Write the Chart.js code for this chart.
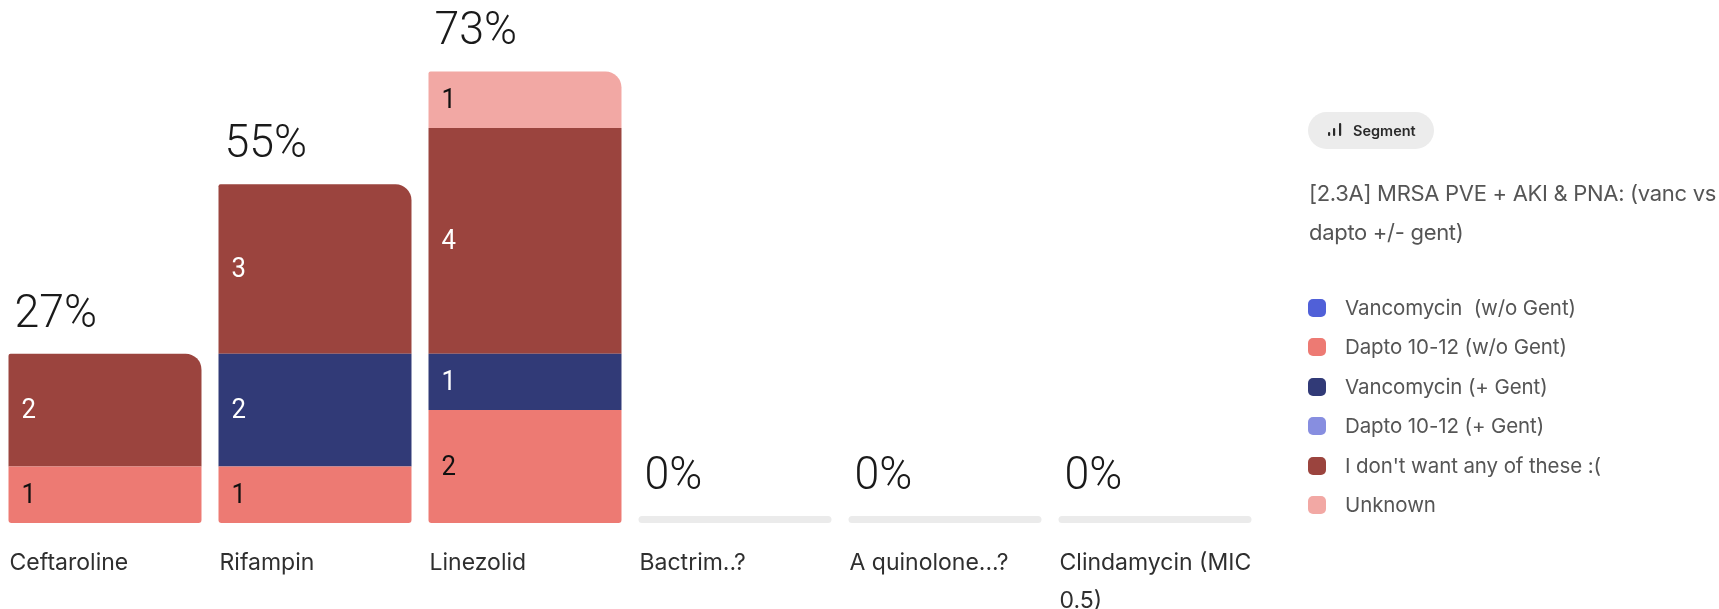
<!DOCTYPE html>
<html>
<head>
<meta charset="utf-8">
<script src="https://cdn.jsdelivr.net/npm/chart.js@4.4.1/dist/chart.umd.min.js"></script>
<style>
  html, body { margin: 0; padding: 0; background: #fff; }
  #wrap { position: relative; width: 1719px; height: 609px; overflow: hidden; }
  #chart { position: absolute; left: 0; top: 0; }
  .panel { position: absolute; left: 1309px; top: 0; width: 410px; height: 609px;
           font-family: Inter, "Noto Sans", sans-serif; color: #555; }
  .pill { position: absolute; left: -1px; top: 112px; width: 126px; height: 37px;
          border-radius: 19px; background: #ececec; }
  .pill svg { position: absolute; left: 19px; top: 11px; }
  .pill span { position: absolute; left: 45px; top: 0; line-height: 37px;
               font-size: 14.5px; font-weight: 600; color: #2a2a2a; }
  .title { position: absolute; left: 0; top: 174px; font-size: 22px; line-height: 39px;
           letter-spacing: -0.3px; white-space: nowrap; }
  .legend { position: absolute; left: 0; top: 288px; }
  .item { position: relative; height: 39.4px; }
  .item i { position: absolute; left: -1px; top: 11px; width: 18px; height: 18px; border-radius: 5px; }
  .item span { position: absolute; left: 36px; top: 0; line-height: 39.4px; font-size: 20.5px;
               letter-spacing: -0.1px; white-space: pre; }
</style>
</head>
<body>
<div id="wrap">
  <canvas id="chart" width="1719" height="609"></canvas>
  <div class="panel">
    <div class="pill">
      <svg width="16" height="14" viewBox="0 0 16 14">
        <rect x="1" y="9" width="2.2" height="4" rx="1" fill="#2a2a2a"/>
        <rect x="6" y="5" width="2.2" height="8" rx="1" fill="#2a2a2a"/>
        <rect x="12" y="0" width="2.2" height="13" rx="1" fill="#2a2a2a"/>
      </svg>
      <span>Segment</span>
    </div>
    <div class="title">[2.3A] MRSA PVE + AKI &amp; PNA: (vanc vs<br>dapto +/- gent)</div>
    <div class="legend" id="legend"></div>
  </div>
</div>
<script>
// answers per option, stacked by segment
const categories = ["Ceftaroline", "Rifampin", "Linezolid", "Bactrim..?", "A quinolone...?", ["Clindamycin (MIC", "0.5)"]];
const segments = ["Vancomycin  (w/o Gent)", "Dapto 10-12 (w/o Gent)", "Vancomycin (+ Gent)", "Dapto 10-12 (+ Gent)", "I don't want any of these :(", "Unknown"];
const vancNoGent = [0, 0, 0, 0, 0, 0];
const daptoNoGent = [1, 1, 2, 0, 0, 0];
const vancGent = [0, 2, 1, 0, 0, 0];
const daptoGent = [0, 0, 0, 0, 0, 0];
const noneOfThese = [2, 3, 4, 0, 0, 0];
const unknown = [0, 0, 1, 0, 0, 0];
const respondents = 11;

const colors = ["#5060d8", "#ed7a73", "#313a77", "#878ee0", "#9b443e", "#f2a8a4"];
const textColors = ["#fff", "#111", "#fff", "#111", "#fff", "#111"];
const series = [vancNoGent, daptoNoGent, vancGent, daptoGent, noneOfThese, unknown];

// round the outer corners of a stack only
const cornerRadius = (ctx) => {
  const ds = ctx.chart.data.datasets;
  const i = ctx.dataIndex;
  let top = -1, bottom = -1;
  ds.forEach((d, k) => {
    if (d.data[i] > 0) {
      if (bottom < 0) bottom = k;
      top = k;
    }
  });
  const r = { topLeft: 0, topRight: 0, bottomLeft: 0, bottomRight: 0 };
  if (ctx.datasetIndex === top) { r.topLeft = 2; r.topRight = 16; }
  if (ctx.datasetIndex === bottom) { r.bottomLeft = 3; r.bottomRight = 3; }
  return r;
};

const totals = categories.map((c, i) => series.reduce((s, d) => s + d[i], 0));

const barLabels = {
  id: "barLabels",
  afterDatasetsDraw(chart) {
    const ctx = chart.ctx;
    const y0 = chart.scales.y.getPixelForValue(0);
    const firstMeta = chart.getDatasetMeta(0);
    ctx.save();
    // segment counts
    chart.data.datasets.forEach((d, k) => {
      const meta = chart.getDatasetMeta(k);
      meta.data.forEach((el, i) => {
        if (!(d.data[i] > 0)) return;
        ctx.save();
        ctx.translate(el.x - el.width / 2 + 13, (el.y + el.base) / 2 + 1);
        ctx.scale(0.92, 1);
        ctx.font = "28px Roboto, 'Liberation Sans', sans-serif";
        ctx.fillStyle = textColors[k];
        ctx.textBaseline = "middle";
        ctx.textAlign = "left";
        ctx.fillText(String(d.data[i]), 0, 0);
        ctx.restore();
      });
    });
    // totals as percentages, plus empty track
    totals.forEach((t, i) => {
      const el = firstMeta.data[i];
      const left = el.x - el.width / 2;
      let top = chart.scales.y.getPixelForValue(t);
      if (t === 0) {
        top = y0 - 7;
        ctx.fillStyle = "#ebebeb";
        ctx.beginPath();
        ctx.roundRect(left, top, el.width, 7, 3.5);
        ctx.fill();
      }
      const pct = Math.round(t / respondents * 100) + "%";
      ctx.save();
      ctx.translate(left + 6, top - 27);
      ctx.scale(0.95, 1);
      ctx.font = "300 47px Roboto, 'Liberation Sans', sans-serif";
      ctx.fillStyle = "#1a1a1a";
      ctx.textBaseline = "alphabetic";
      ctx.textAlign = "left";
      ctx.fillText(pct, 0, 0);
      ctx.restore();
      // category name under the bar
      const lines = Array.isArray(categories[i]) ? categories[i] : [categories[i]];
      ctx.font = "23px Inter, 'Noto Sans', sans-serif";
      ctx.fillStyle = "#2f2f2f";
      ctx.textBaseline = "alphabetic";
      lines.forEach((ln, j) => ctx.fillText(ln, left + 1, y0 + 47 + j * 38));
    });
    ctx.restore();
  },
};

const data = {
  labels: categories,
  datasets: series.map((d, k) => ({
    label: segments[k],
    data: d,
    backgroundColor: colors[k],
    borderWidth: 0,
    borderSkipped: false,
    borderRadius: cornerRadius,
  })),
};

const options = {
  responsive: false,
  animation: false,
  layout: { padding: { left: 0, right: 459, top: 15, bottom: 86 } },
  datasets: { bar: { barPercentage: 1, categoryPercentage: 0.919 } },
  scales: {
    x: { stacked: true, display: false },
    y: { stacked: true, display: false, min: 0, max: 9 },
  },
  plugins: {
    legend: { display: false },
    tooltip: { enabled: false },
  },
};

const chart = new Chart(document.getElementById("chart"), {
  type: "bar",
  data: data,
  options: options,
  plugins: [barLabels],
});

// html legend from the datasets
const legendEl = document.getElementById("legend");
chart.data.datasets.forEach((d) => {
  const row = document.createElement("div");
  row.className = "item";
  row.innerHTML = `<i style="background:${d.backgroundColor}"></i><span></span>`;
  row.querySelector("span").textContent = d.label;
  legendEl.appendChild(row);
});
</script>
</body>
</html>
